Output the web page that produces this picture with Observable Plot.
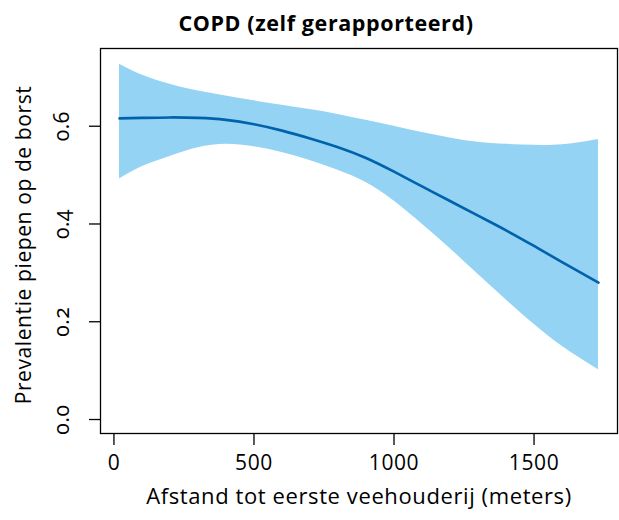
<!DOCTYPE html>
<html>
<head>
<meta charset="utf-8">
<script src="https://cdn.jsdelivr.net/npm/d3@7"></script>
<script src="https://cdn.jsdelivr.net/npm/@observablehq/plot@0.6"></script>
<style>
  body { margin: 0; background: #fff; }
  #chart svg { font-family: "Open Sans", "Noto Sans", sans-serif; font-variant-numeric: oldstyle-nums; letter-spacing: 0.6px; }
</style>
</head>
<body>
<div id="chart"></div>
<script>
const title = "COPD (zelf gerapporteerd)";
const xLabel = "Afstand tot eerste veehouderij (meters)";
const yLabel = "Prevalentie piepen op de borst";

const distance = [20, 100, 200, 300, 400, 500, 600, 700, 800, 900, 1000, 1100, 1200, 1300, 1400, 1500, 1600, 1730];
const fit      = [0.616, 0.617, 0.618, 0.617, 0.613, 0.604, 0.591, 0.575, 0.557, 0.535, 0.507, 0.477, 0.447, 0.417, 0.387, 0.355, 0.322, 0.280];
const upper    = [0.727, 0.705, 0.686, 0.672, 0.662, 0.652, 0.643, 0.634, 0.624, 0.612, 0.600, 0.587, 0.576, 0.567, 0.563, 0.561, 0.562, 0.573];
const lower    = [0.492, 0.517, 0.538, 0.556, 0.563, 0.558, 0.546, 0.530, 0.510, 0.485, 0.447, 0.400, 0.350, 0.297, 0.245, 0.195, 0.150, 0.102];

const xTicks = [0, 500, 1000, 1500];
const yTicks = [0.0, 0.2, 0.4, 0.6];

const data = distance.map((d, i) => ({d, fit: fit[i], lo: lower[i], hi: upper[i]}));

const plot = Plot.plot({
  width: 619,
  height: 520,
  marginTop: 48,
  marginBottom: 87,
  marginLeft: 100,
  marginRight: 2,
  x: {domain: [-48, 1798]},
  y: {domain: [-0.0286, 0.759]},
  marks: [
    Plot.areaY(data, {x: "d", y1: "lo", y2: "hi", fill: "#94d3f3", curve: "natural"}),
    Plot.lineY(data, {x: "d", y: "fit", stroke: "#0062ad", strokeWidth: 2.6, curve: "natural"}),
    Plot.frame({stroke: "black", strokeWidth: 1.3}),
    Plot.axisX(xTicks, {tickSize: 12, tickPadding: 10, fontSize: 21, fill: "black", stroke: "black", strokeWidth: 1.3, label: null, tickFormat: d => String(d)}),
    Plot.axisY(yTicks, {tickSize: 11, fontSize: 18, strokeWidth: 1.3, stroke: "black", label: null, tickFormat: () => ""}),
    Plot.text(yTicks, {y: d => d, text: d => d.toFixed(1), frameAnchor: "left", rotate: -90, dx: -38, fontSize: 21, fill: "black", textAnchor: "middle", lineAnchor: "middle"}),
    Plot.text([yLabel], {frameAnchor: "left", rotate: -90, dx: -76, dy: 4, fontSize: 21, fill: "black", textAnchor: "middle", lineAnchor: "middle"}),
    Plot.text([xLabel], {frameAnchor: "bottom", dy: 63, fontSize: 22, fill: "black", lineAnchor: "middle"}),
    Plot.text([title], {frameAnchor: "top", dy: -24, dx: -33, fontSize: 21.5, fontWeight: "bold", fill: "black", lineAnchor: "middle"})
  ]
});
document.getElementById("chart").append(plot);
</script>
</body>
</html>
